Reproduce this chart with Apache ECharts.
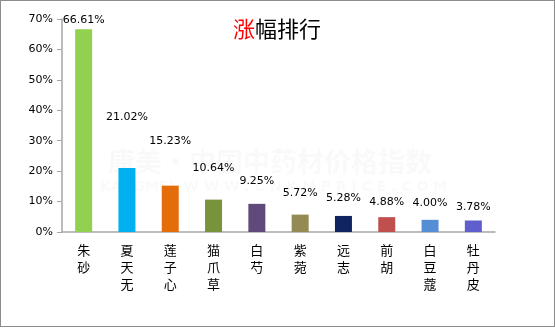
<!DOCTYPE html>
<html><head><meta charset="utf-8">
<script src="https://cdn.jsdelivr.net/npm/echarts@6/dist/echarts.min.js"></script>
<style>
html,body{margin:0;padding:0;background:#fff;}
#wrap{position:absolute;left:0;top:0;width:553px;height:325px;border:1px solid #8c8c8c;}
#c{width:555px;height:328px;position:absolute;left:-1px;top:-1px;}
</style></head>
<body><div id="wrap"><div id="c"></div></div>
<script>
const categories = ['朱砂','夏天无','莲子心','猫爪草','白芍','紫菀','远志','前胡','白豆蔻','牡丹皮'];
const values = [66.61, 21.02, 15.23, 10.64, 9.25, 5.72, 5.28, 4.88, 4.00, 3.78];
const yTicks = [0,10,20,30,40,50,60,70];
const colors = ['#92D050','#00B0F0','#E46C0A','#77933C','#604A7B','#948A54','#0F2461','#C0504D','#558ED5','#5E5ECF'];
const labelDist = [4, 45, 39, 26, 17, 16, 12, 10, 11, 8];

const chart = echarts.init(document.getElementById('c'));
chart.setOption({
  animation:false,
  title:{
    text:'{r|涨}{b|幅排行}', left:272, top:13, textAlign:'center',
    textStyle:{fontWeight:'normal',rich:{
      r:{color:'#ff0000',fontSize:22,fontWeight:'normal',fontFamily:'Noto Sans CJK SC'},
      b:{color:'#000',fontSize:22,fontWeight:'normal',fontFamily:'Noto Sans CJK SC'}
    }}
  },
  graphic:[
    {type:'text',left:108,top:148,silent:true,style:{text:'康美·中国中药材价格指数',fontSize:27,fontWeight:'bold',fill:'rgba(0,0,0,0.025)',fontFamily:'Noto Sans CJK SC'}},
    {type:'text',left:100,top:180,silent:true,style:{text:'KANGMEI  W W W . C N K M P R I C E . C O M',fontSize:14,fontWeight:'bold',fill:'rgba(0,0,0,0.025)',fontFamily:'DejaVu Sans'}}
  ],
  grid:{left:62,right:60,top:19,bottom:96},
  xAxis:{
    type:'category', data:categories,
    axisLine:{lineStyle:{color:'#a6a6a6',width:1.5}},
    axisTick:{show:false},
    axisLabel:{
      interval:0, margin:10, color:'#000', fontSize:13, lineHeight:17,
      fontFamily:'Noto Sans CJK SC',
      formatter:v=>v.split('').join('\n')
    }
  },
  yAxis:{
    type:'value', min:yTicks[0], max:yTicks[yTicks.length-1], interval:10,
    axisLine:{show:true,lineStyle:{color:'#a6a6a6',width:1.5}},
    axisTick:{show:true,length:5,lineStyle:{color:'#a6a6a6'}},
    splitLine:{show:false},
    axisLabel:{color:'#000',fontSize:11,margin:9,fontFamily:'DejaVu Sans',formatter:v=>v+'%'}
  },
  series:[{
    type:'bar', barWidth:17,
    data:values.map((v,i)=>({value:v,itemStyle:{color:colors[i]},label:{distance:labelDist[i]}})),
    label:{show:true,position:'top',color:'#000',fontSize:11,fontFamily:'DejaVu Sans',
      formatter:p=>p.value.toFixed(2)+'%'}
  }]
});
</script></body></html>
